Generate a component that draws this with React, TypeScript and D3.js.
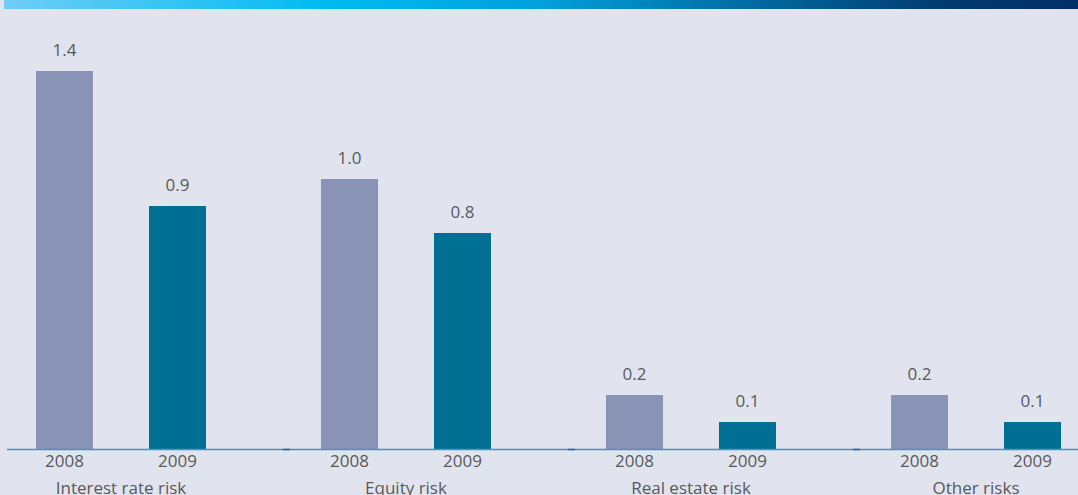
import React from "react";
import * as d3 from "d3";

const categories = ["Interest rate risk", "Equity risk", "Real estate risk", "Other risks"];
const years = ["2008", "2009"];
const values2008 = [1.4, 1.0, 0.2, 0.2];
const values2009 = [0.9, 0.8, 0.1, 0.1];
const valueLabels2008 = ["1.4", "1.0", "0.2", "0.2"];
const valueLabels2009 = ["0.9", "0.8", "0.1", "0.1"];

const W = 1078;
const H = 495;
const baseY = 449;
const colors = ["#8893b6", "#006f94"];
const font = "'Open Sans', 'Noto Sans', sans-serif";
const textColor = "#58595b";

export default function App() {
  const x0 = d3.scaleBand<string>().domain(categories).range([0, 1140]).padding(0);
  const x1 = d3.scaleBand<string>().domain(years).range([36, 206]).paddingInner(1);
  const bw = 57;
  const y = d3.scaleLinear().domain([0, 1.4]).range([baseY, 71]);
  const series = [values2008, values2009];
  const labels = [valueLabels2008, valueLabels2009];

  return (
    <svg width={W} height={H} style={{ position: "absolute", left: 0, top: 0, display: "block" }}>
      <defs>
        <linearGradient id="hdr" x1="0" x2="1" y1="0" y2="0">
          <stop offset="0" stopColor="#6fcdf6" />
          <stop offset="0.3" stopColor="#00bbf2" />
          <stop offset="0.5" stopColor="#00a0dc" />
          <stop offset="0.72" stopColor="#00649a" />
          <stop offset="0.88" stopColor="#003a6e" />
          <stop offset="1" stopColor="#002f66" />
        </linearGradient>
      </defs>
      <rect x={0} y={0} width={W} height={H} fill="#e1e4ee" />
      <rect x={4} y={0} width={W - 4} height={9} fill="url(#hdr)" />
      {categories.map((c, i) => {
        const gx = x0(c)!;
        return (
          <g key={c}>
            {years.map((yr, j) => {
              const v = series[j][i];
              const bx = gx + 36 + j * 113;
              return (
                <g key={yr}>
                  <rect x={bx} y={y(v)} width={bw} height={baseY - y(v)} fill={colors[j]} />
                  <text
                    x={bx + bw / 2}
                    y={y(v) - 15}
                    textAnchor="middle"
                    fontFamily={font}
                    fontSize={17}
                    fill={textColor}
                  >
                    {labels[j][i]}
                  </text>
                  <text
                    x={bx + bw / 2}
                    y={467}
                    textAnchor="middle"
                    fontFamily={font}
                    fontSize={17}
                    fill={textColor}
                  >
                    {yr}
                  </text>
                </g>
              );
            })}
            <text
              x={gx + 36 + (113 + bw) / 2}
              y={494}
              textAnchor="middle"
              fontFamily={font}
              fontSize={17}
              fill={textColor}
            >
              {c}
            </text>
          </g>
        );
      })}
      <line x1={7} x2={W} y1={baseY + 0.5} y2={baseY + 0.5} stroke="#4b93b5" strokeWidth={1.5} />
      {categories.slice(1).map((c) => (
        <line
          key={c}
          x1={x0(c)! - 2}
          x2={x0(c)! + 5}
          y1={baseY + 0.5}
          y2={baseY + 0.5}
          stroke="#1c6b93"
          strokeWidth={1.5}
        />
      ))}
    </svg>
  );
}
